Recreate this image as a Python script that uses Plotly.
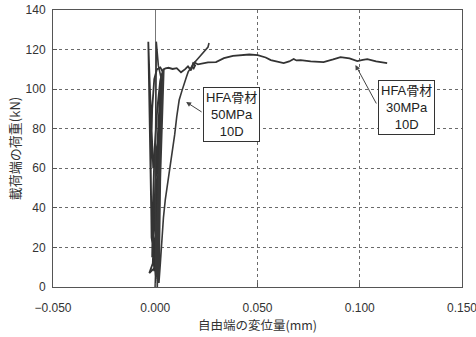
import plotly.graph_objects as go

# HFA骨材 30MPa 10D  (displacement mm, load kN)
x30 = [0.0000, 0.0003, 0.0006, 0.0008, 0.0004, 0.0002,
       0.0005, 0.0009, 0.0011, 0.0013, 0.0008, 0.0003,
       0.0007, 0.0010, 0.0014, 0.0015, 0.0017, 0.0011, 0.0002,
       -0.0003, 0.0006, 0.0012, 0.0016, 0.0019, 0.0021, 0.0010, -0.0005,
       -0.0010, -0.0002, 0.0008, 0.0018, 0.0023, 0.0025, 0.0012, 0.0000, -0.0029, -0.0012,
       -0.0005, 0.0004, 0.0015, 0.0026, 0.0029, 0.0016, -0.0015,
       -0.0012, -0.0003, 0.0010, 0.0024, 0.0032, 0.0020, 0.0006,
       -0.0018, -0.0022, -0.0015, -0.0005, 0.0008, 0.0025, 0.0035, 0.0018, 0.0008,
       -0.0020, -0.0028, -0.0034, -0.0026, -0.0010, 0.0015, 0.0030, 0.0036, 0.0040,
       0.0050, 0.0065, 0.0085, 0.0105, 0.0126, 0.0145, 0.0160, 0.0175, 0.0185, 0.0195,
       0.0188, 0.0180, 0.0192, 0.0209, 0.0230, 0.0258, 0.0297, 0.0336, 0.0380, 0.0419,
       0.0460, 0.0501, 0.0540, 0.0565, 0.0600, 0.0628, 0.0655, 0.0677, 0.0690, 0.0711,
       0.0760, 0.0823, 0.0870, 0.0906, 0.0950, 0.0988, 0.1015, 0.1037, 0.1080, 0.1134]
y30 = [0, 8, 15, 22, 12, 3,
       14, 26, 35, 44, 25, 4,
       18, 32, 46, 55, 64, 38, 5,
       12, 30, 50, 66, 78, 84, 40, 8,
       20, 45, 62, 80, 92, 98, 50, 10, 7, 12,
       35, 60, 82, 100, 106, 60, 15,
       40, 70, 90, 104, 108, 70, 7,
       25, 60, 90, 105, 110, 111, 109, 50, 9,
       40, 90, 124, 100, 60, 75, 100, 108, 110,
       110.5, 110.8, 110.2, 110.6, 108.5, 110.0, 111.5, 109.5, 113.0, 112.0,
       110.5, 111.5, 113.5, 112.5, 113.0, 113.5, 113.7, 115.7, 116.8, 117.2,
       117.5, 117.2, 116.0, 114.7, 114.0, 113.2, 114.0, 115.2, 114.5, 114.7,
       114.0, 113.7, 115.0, 116.2, 115.5, 114.2, 114.8, 115.2, 114.0, 113.2]

# HFA骨材 50MPa 10D
x50 = [0.0010, 0.0012, 0.0015, 0.0018, 0.0013, 0.0011,
       0.0014, 0.0018, 0.0021, 0.0023, 0.0016, 0.0010,
       0.0015, 0.0020, 0.0024, 0.0027, 0.0018, 0.0008,
       0.0012, 0.0019, 0.0026, 0.0030, 0.0032, 0.0020, 0.0006,
       0.0010, 0.0018, 0.0028, 0.0033, 0.0035, 0.0022, 0.0004,
       0.0008, 0.0016, 0.0027, 0.0034, 0.0037, 0.0024, 0.0003,
       0.0002, 0.0000, 0.0003, 0.0005, 0.0005, 0.0015, 0.0030, 0.0039, 0.0042, 0.0025, 0.0018,
       0.0025, 0.0032, 0.0040, 0.0049, 0.0058, 0.0070, 0.0083, 0.0095, 0.0105, 0.0117,
       0.0130, 0.0141, 0.0152, 0.0161, 0.0175, 0.0190, 0.0205, 0.0224, 0.0240, 0.0258,
       0.0263]
y50 = [0, 10, 20, 28, 10, 2,
       15, 30, 42, 50, 22, 3,
       20, 40, 58, 68, 30, 4,
       20, 45, 65, 78, 85, 40, 5,
       22, 50, 75, 90, 97, 45, 6,
       25, 55, 80, 98, 104, 50, 7,
       30, 60, 90, 110, 124, 112, 105, 108, 110, 55, 2,
       12, 25, 35, 44, 50, 60, 69, 77, 86, 94.5,
       99, 103, 106, 108.7, 111, 113.2, 115, 117.2, 119, 121.3,
       123.3]

x_ticks = [-0.05, 0.0, 0.05, 0.10, 0.15]
y_ticks = [0, 20, 40, 60, 80, 100, 120, 140]

FONT = "Liberation Sans, Arial, Noto Sans CJK JP, sans-serif"
JP = "Noto Sans CJK JP, sans-serif"

fig = go.Figure()
fig.add_trace(go.Scatter(x=x30, y=y30, mode="lines",
                         line=dict(color="#333333", width=1.8), showlegend=False))
fig.add_trace(go.Scatter(x=x50, y=y50, mode="lines",
                         line=dict(color="#383838", width=1.6), showlegend=False))

axis_common = dict(showline=True, linecolor="#555", linewidth=1, mirror=True,
                   ticks="inside", ticklen=4, tickcolor="#555",
                   showgrid=True, gridcolor="#6a6a6a", griddash="dot", gridwidth=1,
                   automargin=False,
                   tickfont=dict(family=FONT, size=12, color="#333"))

fig.update_xaxes(range=[-0.05, 0.15], tickvals=x_ticks, tickformat=".3f",
                 zeroline=True, zerolinecolor="#777", zerolinewidth=1,
                 ticklabelstandoff=10, ticklabeloverflow="allow",
                 title=dict(text="自由端の変位量(mm)", font=dict(family=JP, size=12.5, color="#333"),
                            standoff=2),
                 **axis_common)
fig.update_yaxes(range=[0, 140], tickvals=y_ticks, zeroline=False,
                 ticklabelstandoff=4,
                 title=dict(text="載荷端の荷重(kN)", font=dict(family=JP, size=13, color="#333"),
                            standoff=2),
                 **axis_common)

box_font = dict(family=FONT, size=13, color="#222")
# text boxes
fig.add_annotation(x=0.0375, y=87.0, xref="x", yref="y", showarrow=False,
                   text="HFA骨材<br>50MPa<br>10D", font=box_font, align="center",
                   bordercolor="#333", borderwidth=1, borderpad=2, bgcolor="white")
fig.add_annotation(x=0.1227, y=90.5, xref="x", yref="y", showarrow=False,
                   text="HFA骨材<br>30MPa<br>10D", font=box_font, align="center",
                   bordercolor="#333", borderwidth=1, borderpad=2, bgcolor="white")
# arrows
fig.add_annotation(x=0.0151, y=93.5, ax=0.0234, ay=88.0, xref="x", yref="y",
                   axref="x", ayref="y", text="", showarrow=True, arrowhead=2,
                   arrowsize=1, arrowwidth=1, arrowcolor="#444", standoff=0)
fig.add_annotation(x=0.0979, y=112.2, ax=0.1085, ay=92.0, xref="x", yref="y",
                   axref="x", ayref="y", text="", showarrow=True, arrowhead=2,
                   arrowsize=1, arrowwidth=1, arrowcolor="#444", standoff=0)

fig.update_layout(width=476, height=337, margin=dict(l=53, r=14, t=10, b=50),
                  plot_bgcolor="white", paper_bgcolor="white",
                  font=dict(family=FONT, size=12, color="#333"))

fig.write_html("out.html")
